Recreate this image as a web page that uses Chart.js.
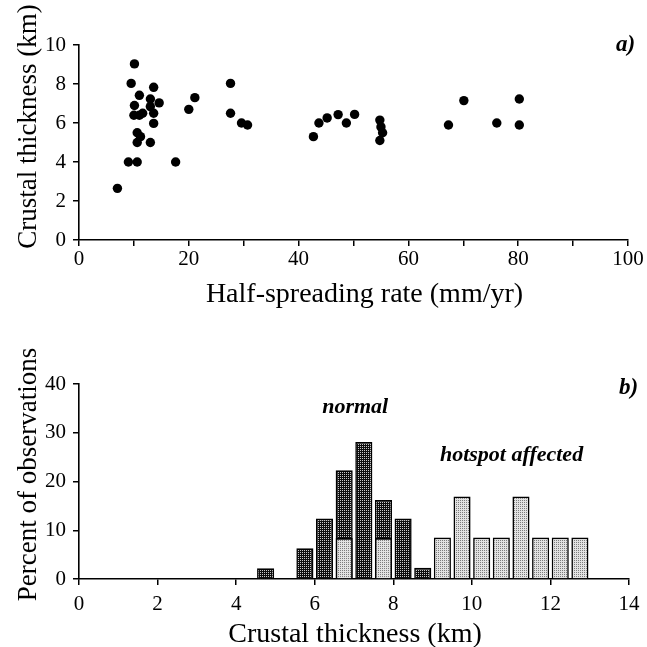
<!DOCTYPE html>
<html>
<head>
<meta charset="utf-8">
<script src="https://cdn.jsdelivr.net/npm/chart.js@4.4.1/dist/chart.umd.min.js"></script>
<style>
    html, body { margin: 0; padding: 0; background: #fff; }
    canvas { position: absolute; left: 0; }
</style>
</head>
<body>
<canvas id="rate" width="647" height="320" style="top:0px"></canvas>
<canvas id="hist" width="647" height="327" style="top:320px"></canvas>
<script>

// a) crustal thickness vs half-spreading rate
const rateX = [7.0, 10.1, 9.5, 11.0, 10.1, 10.0, 11.0, 11.6, 10.6, 11.2, 10.6, 9.0, 10.6,
               13.6, 13.0, 14.6, 13.0, 13.6, 13.6, 13.0, 17.6, 20.0, 21.1, 27.6, 27.6, 29.6, 30.7,
               42.7, 43.7, 45.2, 47.2, 48.7, 50.2, 54.8, 55.0, 55.3, 54.8, 67.3, 70.1, 76.1, 80.2, 80.2];
const thickY = [2.65, 9.03, 8.03, 7.42, 6.9, 6.4, 6.4, 6.5, 5.5, 5.3, 5.0, 4.0, 4.0,
                7.83, 7.23, 7.03, 6.84, 6.5, 5.98, 5.0, 4.0, 6.7, 7.3, 8.03, 6.5, 6.0, 5.9,
                5.3, 6.0, 6.26, 6.43, 6.0, 6.44, 6.15, 5.8, 5.5, 5.1, 5.9, 7.15, 6.0, 7.23, 5.9];

// b) histogram, 0.5 km bins (bin centres)
const normalBins = [4.75, 5.75, 6.25, 6.75, 7.25, 7.75, 8.25, 8.75];
const normalPct = [2.2, 6.3, 12.4, 22.3, 28.1, 16.2, 12.4, 2.3];
const hotspotBins = [6.75, 7.75, 9.25, 9.75, 10.25, 10.75, 11.25, 11.75, 12.25, 12.75];
const hotspotPct = [8.4, 8.4, 8.5, 16.9, 8.5, 8.5, 16.9, 8.5, 8.5, 8.5];

const SERIF = "'Liberation Serif', 'Times New Roman', serif";
Chart.defaults.font.family = SERIF;
Chart.defaults.color = '#000';
Chart.defaults.animation = false;

// one light/dark dot per 2x2 cell to imitate the stippled print
function stipple (base, dot) {
    const c = document.createElement('canvas');
    c.width = 2; c.height = 2;
    const g = c.getContext('2d');
    g.fillStyle = base; g.fillRect(0, 0, 2, 2);
    g.fillStyle = dot; g.fillRect(0, 0, 1, 1);
    return g.createPattern(c, 'repeat');
}

// annotations in data coordinates + axis titles placed off the chart area
function notes (items, titles) {
    return {
        id: 'notes',
        afterDraw (chart) {
            const ctx = chart.ctx;
            const { x, y } = chart.scales;
            const area = chart.chartArea;
            ctx.save();
            ctx.fillStyle = '#000';
            ctx.textBaseline = 'middle';
            for (const n of items) {
                ctx.font = n.font;
                ctx.textAlign = n.align;
                ctx.fillText(n.text, x.getPixelForValue(n.x), y.getPixelForValue(n.y));
            }
            ctx.textBaseline = 'alphabetic';
            ctx.textAlign = 'center';
            // x title under the tick labels
            ctx.font = '28px ' + SERIF;
            ctx.fillText(titles.x, (area.left + area.right) / 2 + titles.dx, titles.xBase);
            // y title, rotated
            ctx.font = '27px ' + SERIF;
            ctx.translate(titles.yBase, (area.top + area.bottom) / 2 + titles.dy);
            ctx.rotate(-Math.PI / 2);
            ctx.fillText(titles.y, 0, 0);
            ctx.restore();
        }
    };
}

function axis (min, max, step, opts) {
    return {
        type: 'linear',
        min: min, max: max,
        offset: false,
        grid: { drawOnChartArea: false, offset: false, tickLength: 6, color: '#000', lineWidth: 1.5 },
        border: { color: '#000', width: 1.6 },
        ticks: { stepSize: step, font: { size: 21 }, color: '#000', padding: opts.pad, maxRotation: 0, autoSkip: false,
                 callback: opts.cb || (v => v) },
        title: { display: false },
        afterFit: opts.fit
    };
}

new Chart(document.getElementById('rate'), {
    type: 'scatter',
    data: {
        datasets: [{
            data: rateX.map((x, i) => ({ x: x, y: thickY[i] })),
            backgroundColor: '#000',
            borderColor: '#000',
            pointRadius: 4.7,
            pointBorderWidth: 0
        }]
    },
    options: {
        responsive: false,
        layout: { padding: { top: 45, right: 19, left: 0, bottom: 0 } },
        plugins: { legend: { display: false }, tooltip: { enabled: false } },
        scales: {
            x: axis(0, 100, 10, { pad: 1, cb: v => (v % 20 === 0 ? v : ''), fit: s => { s.height = 80; } }),
            y: axis(0, 10, 2, { pad: 7, fit: s => { s.width = 79; } })
        }
    },
    plugins: [notes([
        { text: 'a)', x: 101.3, y: 10, align: 'right', font: 'italic bold 23px ' + SERIF }
    ], { x: 'Half-spreading rate (mm/yr)', dx: 11, xBase: 302,
         y: 'Crustal thickness (km)', dy: -16, yBase: 36 })]
});

new Chart(document.getElementById('hist'), {
    type: 'bar',
    data: {
        datasets: [{
            label: 'hotspot affected',
            data: hotspotBins.map((x, i) => ({ x: x, y: hotspotPct[i] })),
            backgroundColor: stipple('#e2e2e2', '#7c7c7c'),
            borderColor: '#000',
            borderWidth: 1.6
        }, {
            label: 'normal',
            data: normalBins.map((x, i) => ({ x: x, y: normalPct[i] })),
            backgroundColor: stipple('#0c0c0c', '#c8c8c8'),
            borderColor: '#000',
            borderWidth: 1.6
        }]
    },
    options: {
        responsive: false,
        grouped: false,
        categoryPercentage: 1,
        barPercentage: 0.87,
        layout: { padding: { top: 64, right: 18, left: 0, bottom: 0 } },
        plugins: { legend: { display: false }, tooltip: { enabled: false } },
        scales: {
            x: axis(0, 14, 2, { pad: 7, fit: s => { s.height = 68; } }),
            y: axis(0, 40, 10, { pad: 7, fit: s => { s.width = 79; } })
        }
    },
    plugins: [notes([
        { text: 'normal', x: 7.03, y: 35.3, align: 'center', font: 'italic bold 22px ' + SERIF },
        { text: 'hotspot affected', x: 11.01, y: 25.3, align: 'center', font: 'italic bold 22px ' + SERIF },
        { text: 'b)', x: 14.23, y: 39.2, align: 'right', font: 'italic bold 23px ' + SERIF }
    ], { x: 'Crustal thickness (km)', dx: 1, xBase: 322,
         y: 'Percent of observations', dy: -7, yBase: 36 })]
});

</script>
</body>
</html>
